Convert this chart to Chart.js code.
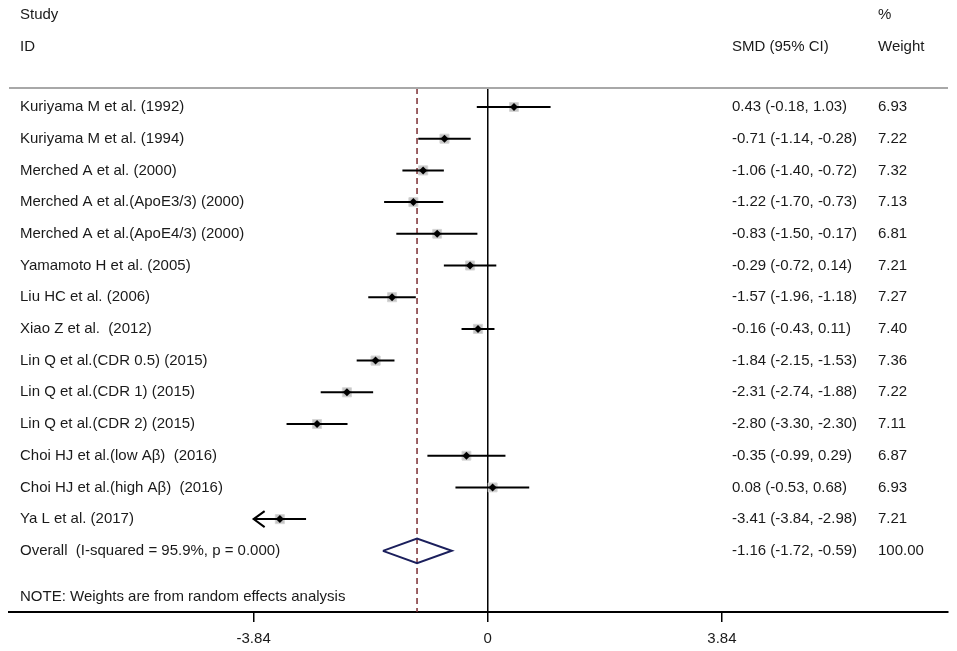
<!DOCTYPE html>
<html lang="en">
<head>
    <meta charset="UTF-8">
    <title>Forest plot - SMD</title>
    <script src="https://cdn.jsdelivr.net/npm/chart.js@4.4.0/dist/chart.umd.min.js"></script>
    <style>
        html, body {
            margin: 0;
            padding: 0;
            background: #ffffff;
        }
        .chart-container {
            width: 957px;
            height: 651px;
        }
    </style>
</head>
<body>

<div class="chart-container">
    <canvas id="forestChart" width="957" height="651"></canvas>
</div>

<script>
    // study data
    var studies = [
        'Kuriyama M et al. (1992)',
        'Kuriyama M et al. (1994)',
        'Merched A et al. (2000)',
        'Merched A et al.(ApoE3/3) (2000)',
        'Merched A et al.(ApoE4/3) (2000)',
        'Yamamoto H et al. (2005)',
        'Liu HC et al. (2006)',
        'Xiao Z et al.  (2012)',
        'Lin Q et al.(CDR 0.5) (2015)',
        'Lin Q et al.(CDR 1) (2015)',
        'Lin Q et al.(CDR 2) (2015)',
        'Choi HJ et al.(low A\u03b2)  (2016)',
        'Choi HJ et al.(high A\u03b2)  (2016)',
        'Ya L et al. (2017)'
    ];
    var smd = [0.43, -0.71, -1.06, -1.22, -0.83, -0.29, -1.57, -0.16, -1.84, -2.31, -2.80, -0.35, 0.08, -3.41];
    var lower = [-0.18, -1.14, -1.40, -1.70, -1.50, -0.72, -1.96, -0.43, -2.15, -2.74, -3.30, -0.99, -0.53, -3.84];
    var upper = [1.03, -0.28, -0.72, -0.73, -0.17, 0.14, -1.18, 0.11, -1.53, -1.88, -2.30, 0.29, 0.68, -2.98];
    var weights = [6.93, 7.22, 7.32, 7.13, 6.81, 7.21, 7.27, 7.40, 7.36, 7.22, 7.11, 6.87, 6.93, 7.21];

    var overallLabel = 'Overall  (I-squared = 95.9%, p = 0.000)';
    var overallSMD = -1.16;
    var overallLower = -1.72;
    var overallUpper = -0.59;
    var overallWeight = '100.00';

    var noteText = 'NOTE: Weights are from random effects analysis';
    var xTicks = [-3.84, 0, 3.84];
    var clipMin = -3.84;   // CIs below this get an arrow

    // layout in "row" units (row 0 = first study)
    var yTop = -3.375;
    var yBottom = 15.93;
    var sepRow = -0.6;
    var headRow1 = -2.9;
    var headRow2 = -1.9;
    var overallRow = studies.length;
    var noteRow = overallRow + 1.46;

    var textFont = '15px "Liberation Sans", Arial, sans-serif';

    function fmt(v) {
        return v.toFixed(2);
    }

    var datasets = [];

    // reference lines: no effect (0) and overall estimate
    datasets.push({
        data: [{x: 0, y: sepRow}, {x: 0, y: yBottom}],
        showLine: true, borderColor: '#000000', borderWidth: 1.5,
        pointRadius: 0, order: 10
    });
    datasets.push({
        data: [{x: overallSMD, y: sepRow}, {x: overallSMD, y: yBottom}],
        showLine: true, borderColor: '#7b2d32', borderWidth: 1.5, borderDash: [6, 4],
        pointRadius: 0, order: 9
    });

    // weight boxes
    datasets.push({
        data: smd.map(function(v, i) { return {x: v, y: i}; }),
        pointStyle: 'rect',
        pointRadius: weights.map(function(w) { return 6.4 * Math.sqrt(w / 7.2); }),
        backgroundColor: '#c4c4c4', borderColor: '#d6d6d6', borderWidth: 1,
        order: 8
    });

    // confidence interval lines
    for (var i = 0; i < studies.length; i++) {
        datasets.push({
            data: [{x: Math.max(lower[i], clipMin), y: i}, {x: upper[i], y: i}],
            showLine: true, borderColor: '#000000', borderWidth: 2,
            pointRadius: 0, order: 5
        });
    }

    // point estimates
    datasets.push({
        data: smd.map(function(v, i) { return {x: v, y: i}; }),
        pointStyle: 'rectRot', pointRadius: 4,
        backgroundColor: '#000000', borderColor: '#000000', borderWidth: 0,
        order: 2
    });

    // overall diamond
    datasets.push({
        data: [
            {x: overallLower, y: overallRow},
            {x: overallSMD, y: overallRow - 0.39},
            {x: overallUpper, y: overallRow},
            {x: overallSMD, y: overallRow + 0.39},
            {x: overallLower, y: overallRow}
        ],
        showLine: true, borderColor: '#1b1f5c', borderWidth: 2,
        pointRadius: 0, order: 1
    });

    var forestText = {
        id: 'forestText',
        afterDraw: function(chart) {
            var ctx = chart.ctx;
            var xs = chart.scales.x;
            var ys = chart.scales.y;
            var area = chart.chartArea;
            var nameX = area.left + 11;
            var smdX = area.right - 216;
            var wtX = area.right - 70;

            ctx.save();

            // separator under header
            ctx.strokeStyle = '#a8a8a8';
            ctx.lineWidth = 2;
            ctx.beginPath();
            ctx.moveTo(area.left, ys.getPixelForValue(sepRow));
            ctx.lineTo(area.right, ys.getPixelForValue(sepRow));
            ctx.stroke();

            // arrow for clipped CIs
            ctx.strokeStyle = '#000000';
            ctx.lineWidth = 2;
            for (var i = 0; i < studies.length; i++) {
                if (lower[i] <= clipMin) {
                    var ax = xs.getPixelForValue(clipMin);
                    var ay = ys.getPixelForValue(i);
                    ctx.beginPath();
                    ctx.moveTo(ax + 11, ay - 8);
                    ctx.lineTo(ax, ay);
                    ctx.lineTo(ax + 11, ay + 8);
                    ctx.stroke();
                }
            }

            ctx.fillStyle = '#1a1a1a';
            ctx.font = textFont;
            ctx.textBaseline = 'middle';
            ctx.textAlign = 'left';

            ctx.fillText('Study', nameX, ys.getPixelForValue(headRow1));
            ctx.fillText('ID', nameX, ys.getPixelForValue(headRow2));
            ctx.fillText('SMD (95% CI)', smdX, ys.getPixelForValue(headRow2));
            ctx.fillText('%', wtX, ys.getPixelForValue(headRow1));
            ctx.fillText('Weight', wtX, ys.getPixelForValue(headRow2));

            for (var j = 0; j < studies.length; j++) {
                var y = ys.getPixelForValue(j);
                ctx.fillText(studies[j], nameX, y);
                ctx.fillText(fmt(smd[j]) + ' (' + fmt(lower[j]) + ', ' + fmt(upper[j]) + ')', smdX, y);
                ctx.fillText(fmt(weights[j]), wtX, y);
            }

            var oy = ys.getPixelForValue(overallRow);
            ctx.fillText(overallLabel, nameX, oy);
            ctx.fillText(fmt(overallSMD) + ' (' + fmt(overallLower) + ', ' + fmt(overallUpper) + ')', smdX, oy);
            ctx.fillText(overallWeight, wtX, oy);

            ctx.fillText(noteText, nameX, ys.getPixelForValue(noteRow));

            ctx.restore();
        }
    };

    var ctx = document.getElementById('forestChart').getContext('2d');
    var forest = new Chart(ctx, {
        type: 'scatter',
        data: { datasets: datasets },
        options: {
            responsive: false,
            animation: false,
            devicePixelRatio: 1,
            layout: {
                autoPadding: false,
                padding: { left: 9, right: 9, top: 0, bottom: 5 }
            },
            plugins: {
                legend: { display: false },
                tooltip: { enabled: false }
            },
            scales: {
                x: {
                    type: 'linear',
                    min: -7.852,
                    max: 7.548,
                    afterBuildTicks: function(scale) {
                        scale.ticks = xTicks.map(function(v) { return {value: v}; });
                    },
                    afterFit: function(scale) {
                        scale.height = 34;
                    },
                    ticks: {
                        autoSkip: false,
                        maxRotation: 0,
                        padding: 8,
                        color: '#1a1a1a',
                        font: { family: '"Liberation Sans", Arial, sans-serif', size: 15 },
                        callback: function(v) { return v === 0 ? '0' : v.toFixed(2); }
                    },
                    grid: {
                        drawOnChartArea: false,
                        drawTicks: true,
                        tickLength: 10,
                        color: '#000000',
                        lineWidth: 1.5
                    },
                    border: { display: true, color: '#000000', width: 2 }
                },
                y: {
                    type: 'linear',
                    display: false,
                    reverse: true,
                    min: yTop,
                    max: yBottom
                }
            }
        },
        plugins: [forestText]
    });
</script>

</body>
</html>
